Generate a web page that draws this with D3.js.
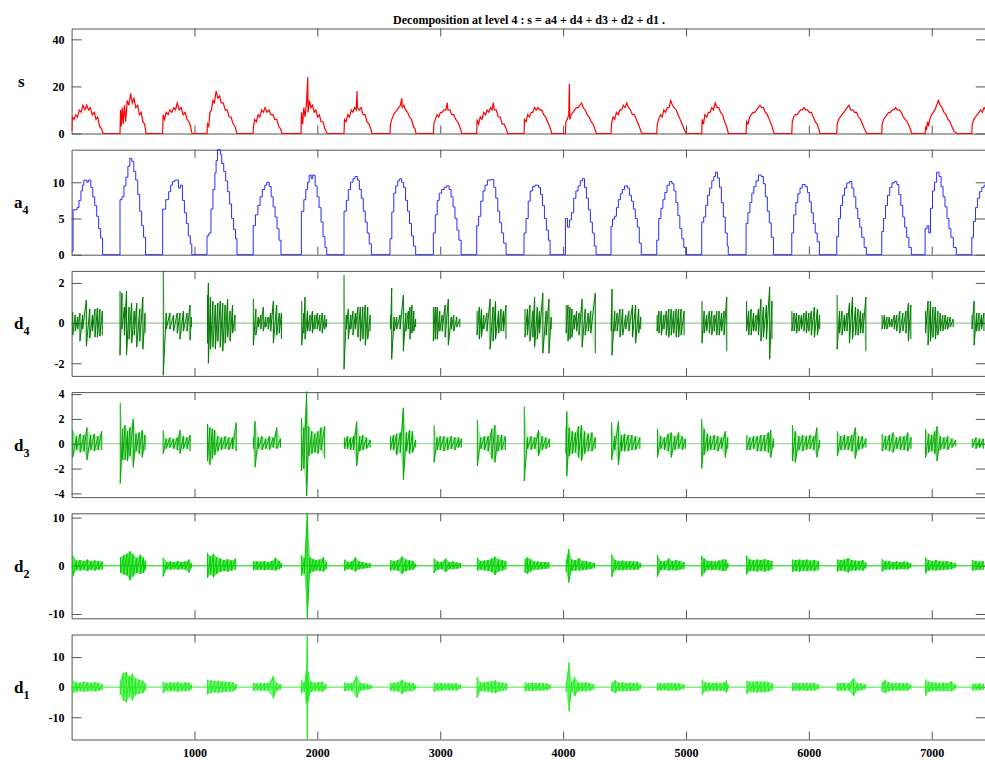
<!DOCTYPE html>
<html>
<head>
<meta charset="utf-8">
<script src="https://cdn.jsdelivr.net/npm/d3@7/dist/d3.min.js"></script>
<style>
  body { margin: 0; background: #fff; }
  .tick text { font-family: 'Liberation Serif', 'Times New Roman', serif; font-weight: bold; font-size: 12px; fill: #000; }
</style>
</head>
<body>
<div id="chart"></div>
<script>
// sample axis
var sampleMax = 7440;
var xTicks = [1000, 2000, 3000, 4000, 5000, 6000, 7000];

// y ranges and tick values of the six rows
var sRange = [0, 44.6],     sTicks = [0, 20, 40];
var a4Range = [0, 14.5],    a4Ticks = [0, 5, 10];
var d4Range = [-2.63, 2.6], d4Ticks = [-2, 0, 2];
var d3Range = [-4.3, 4.16], d3Ticks = [-4, -2, 0, 2, 4];
var d2Range = [-10.9, 10.9], d2Ticks = [-10, 0, 10];
var d1Range = [-17.4, 17.5], d1Ticks = [-10, 0, 10];

// signal s : [sample, value]
var sSignal = [
  [0,1],[6,7],[20,6],[34,8],[48,7],[62,10],[78,9],[92,12],[108,10],[122,12],[138,10],[152,11],[168,8],[184,9],[198,6],[212,7],[228,3],[244,2],[256,0],
  [394,0],[398,10],[404,3],[412,11],[420,4],[430,12],[440,5],[452,14],[466,12],[480,17],[494,13],[508,15],[522,11],[538,12],[552,8],[566,9],[580,5],[594,4],[606,0],
  [741,0],[745,8],[756,6],[770,9],[786,8],[800,10],[816,9],[832,11],[846,10],[860,13],[876,10],[892,11],[908,8],[924,9],[940,6],[955,5],[968,3],[980,0],
  [1102,0],[1106,4],[1116,3],[1126,9],[1138,10],[1150,14],[1162,13],[1176,18],[1190,15],[1204,16],[1218,13],[1234,13],[1250,10],[1266,10],[1282,7],[1298,7],[1314,4],[1330,3],[1346,0],
  [1476,0],[1480,3],[1490,6],[1504,5],[1518,8],[1532,7],[1546,10],[1560,9],[1574,11],[1590,9],[1606,10],[1622,8],[1638,8],[1654,6],[1670,6],[1686,3],[1700,2],[1713,0],
  [1867,0],[1871,9],[1880,4],[1890,11],[1900,7],[1912,13],[1922,24],[1924,9],[1936,14],[1948,11],[1960,12],[1974,9],[1988,10],[2002,7],[2016,8],[2030,5],[2046,5],[2062,2],[2079,0],
  [2217,0],[2221,6],[2234,5],[2248,8],[2262,7],[2276,10],[2290,9],[2304,11],[2316,10],[2323,18],[2326,11],[2340,10],[2356,11],[2372,8],[2388,8],[2404,5],[2420,4],[2434,2],[2445,0],
  [2591,0],[2595,4],[2606,6],[2620,8],[2634,9],[2648,10],[2662,11],[2676,12],[2687,15],[2690,11],[2704,12],[2718,10],[2734,9],[2750,7],[2766,6],[2782,3],[2795,2],[2803,0],
  [2944,0],[2948,4],[2960,6],[2974,8],[2988,7],[3002,9],[3016,9],[3030,10],[3046,10],[3058,13],[3062,10],[3078,10],[3094,8],[3110,8],[3126,6],[3142,5],[3158,3],[3175,0],
  [3297,0],[3300,6],[3312,4],[3326,7],[3340,6],[3354,9],[3368,8],[3382,10],[3396,9],[3410,11],[3422,10],[3432,13],[3440,10],[3456,10],[3472,7],[3488,7],[3504,4],[3520,4],[3536,2],[3549,0],
  [3682,0],[3686,6],[3698,5],[3712,8],[3726,7],[3740,9],[3754,9],[3768,11],[3782,10],[3796,11],[3810,10],[3826,10],[3842,8],[3858,7],[3874,5],[3890,3],[3908,0],
  [4019,0],[4022,5],[4034,6],[4046,8],[4051,21],[4054,6],[4066,8],[4080,9],[4094,10],[4108,11],[4122,11],[4136,12],[4150,13],[4164,11],[4180,10],[4196,8],[4212,7],[4228,5],[4244,4],[4258,2],[4271,0],
  [4390,0],[4394,4],[4406,7],[4420,6],[4434,9],[4448,8],[4462,10],[4476,10],[4490,12],[4504,11],[4518,13],[4532,11],[4548,10],[4564,8],[4580,8],[4596,6],[4612,4],[4626,2],[4640,0],
  [4762,0],[4766,4],[4778,6],[4792,8],[4806,7],[4820,10],[4834,9],[4848,11],[4862,11],[4876,14],[4890,12],[4904,11],[4920,10],[4936,8],[4952,6],[4968,4],[4984,2],[5001,0],
  [5128,0],[5132,6],[5142,4],[5154,8],[5168,7],[5182,9],[5196,9],[5210,11],[5224,10],[5238,13],[5252,11],[5266,11],[5282,9],[5298,8],[5314,5],[5330,3],[5345,0],
  [5489,0],[5493,5],[5504,4],[5518,7],[5532,8],[5546,9],[5560,9],[5574,10],[5588,11],[5602,12],[5616,11],[5630,11],[5646,9],[5662,8],[5678,6],[5694,4],[5706,2],[5717,0],
  [5861,0],[5865,5],[5876,7],[5890,8],[5904,8],[5918,9],[5932,10],[5946,10],[5960,11],[5974,10],[5988,10],[6004,9],[6020,9],[6036,7],[6052,5],[6068,4],[6080,2],[6091,0],
  [6227,0],[6231,4],[6242,6],[6256,7],[6270,8],[6284,9],[6298,10],[6312,11],[6326,12],[6340,10],[6356,10],[6372,9],[6388,9],[6404,7],[6420,6],[6436,4],[6452,2],[6471,0],
  [6593,0],[6597,4],[6608,6],[6622,7],[6636,8],[6650,9],[6664,9],[6678,10],[6692,10],[6706,11],[6720,10],[6736,10],[6752,9],[6768,7],[6784,6],[6800,5],[6818,3],[6838,0],
  [6946,0],[6950,3],[6958,2],[6966,5],[6974,3],[6984,6],[6998,8],[7012,9],[7026,10],[7040,12],[7054,14],[7068,12],[7084,11],[7100,9],[7116,8],[7132,6],[7148,5],[7164,3],[7180,1],[7204,0],
  [7326,0],[7330,4],[7342,6],[7356,7],[7370,8],[7384,9],[7398,10],[7412,9],[7426,11],[7440,10]
];

// approximation a4 (piecewise constant) : [sample, value]
var a4Signal = [
  [0,0.5],[12,6.2],[44,6.5],[60,7.5],[76,8.8],[88,9.6],[100,10.3],[124,10],[136,10.3],[156,9.3],[172,8],[188,6.8],[204,5.3],[220,3.6],[236,2.3],[252,0],
  [394,7.6],[410,8],[426,9.5],[442,10.7],[458,12.2],[474,13.3],[490,12.9],[506,11.5],[522,10.3],[538,8.3],[554,6],[570,4],[586,2.4],[602,0],
  [741,6.3],[766,7.6],[790,8.7],[806,9.6],[822,10.1],[838,10.3],[870,9.2],[886,9.6],[902,7.5],[918,5.8],[934,4.3],[950,2.6],[966,1.5],[978,0],
  [1102,2.6],[1118,3],[1134,6.3],[1150,9],[1166,11.3],[1176,13],[1188,14.5],[1212,13.8],[1222,12.6],[1238,11.5],[1254,10.2],[1270,8.7],[1286,7],[1302,5],[1318,3.5],[1334,2.2],[1346,0],
  [1478,4],[1496,5.5],[1516,6.8],[1534,8],[1552,9],[1572,9.6],[1588,10],[1608,9.4],[1624,8],[1640,6.6],[1656,5.2],[1672,3.6],[1688,2],[1704,0],
  [1870,6],[1890,7.6],[1906,9],[1920,10],[1934,11],[1950,10.5],[1962,11],[1982,9.5],[1998,8],[2014,6.5],[2030,4.5],[2046,2.5],[2062,1],[2076,0],
  [2217,6],[2236,7.5],[2252,9],[2270,10],[2290,10.5],[2306,10.8],[2326,10.3],[2342,9],[2358,7.8],[2374,6],[2390,4.5],[2406,3],[2422,1.5],[2440,0],
  [2591,2.2],[2606,5.9],[2622,8.5],[2638,9.5],[2654,10.2],[2670,10.5],[2686,10],[2702,9.3],[2718,7.5],[2734,6],[2750,4.3],[2766,2.6],[2782,1.2],[2800,0],
  [2944,3],[2960,5.5],[2976,7.5],[2992,8.5],[3012,9],[3032,9.3],[3052,9.5],[3072,9],[3088,8],[3104,6.6],[3120,5],[3136,3.4],[3152,2],[3170,0],
  [3297,4],[3312,5.3],[3330,7.4],[3348,8.8],[3364,9.6],[3384,10.3],[3416,10.4],[3436,9.3],[3452,7.8],[3468,6],[3484,4.4],[3500,3],[3516,1.6],[3536,0],
  [3682,3],[3698,5],[3716,7.4],[3732,8.8],[3752,9.4],[3772,9.6],[3800,9.3],[3816,8.3],[3832,6.8],[3848,5],[3864,3.4],[3880,2],[3894,0],
  [4019,5],[4036,3.8],[4052,4.8],[4068,5.8],[4086,7.8],[4104,8.8],[4122,9.5],[4140,10.2],[4158,10.5],[4174,9.3],[4190,7.8],[4206,6.2],[4222,4.5],[4238,3],[4254,1.2],[4268,0],
  [4390,3.9],[4402,4.9],[4418,5.3],[4434,6.5],[4450,7.6],[4466,8.4],[4482,9],[4500,9.5],[4524,9.2],[4540,8.2],[4556,7.4],[4572,6.3],[4588,5],[4604,3.8],[4620,1.6],[4636,0],
  [4762,2],[4778,5],[4796,6.4],[4812,7.6],[4828,8.6],[4846,9.6],[4866,10.1],[4886,9.8],[4902,8.8],[4918,7.2],[4934,5.4],[4950,3.6],[4966,2.2],[4982,1],[4998,0],
  [5128,4.5],[5144,5.2],[5160,6.8],[5176,8.2],[5192,9.2],[5210,10.2],[5226,10.8],[5240,11.4],[5256,10.6],[5272,9.3],[5288,7.2],[5304,5.2],[5320,3],[5336,1.2],[5344,0],
  [5489,4.3],[5504,5.8],[5520,7.2],[5536,8.5],[5552,9.4],[5570,10.2],[5590,11],[5612,10.8],[5630,9.8],[5646,8],[5662,6],[5678,4.4],[5694,2.4],[5712,0],
  [5861,3],[5876,5.5],[5894,7.2],[5910,8.4],[5928,9.2],[5946,9.7],[5970,9.4],[5988,8.6],[6004,7.3],[6020,5.8],[6036,4.3],[6052,3],[6068,1.8],[6086,0],
  [6227,2.5],[6242,5],[6258,6.8],[6274,8.2],[6290,9.2],[6308,9.9],[6330,10.1],[6350,9.2],[6366,8],[6382,6.4],[6398,5],[6414,3.8],[6430,2.4],[6450,1],[6468,0],
  [6593,3.2],[6608,5],[6624,6.8],[6640,8.2],[6658,9.3],[6676,9.9],[6696,10.1],[6716,9.7],[6732,8.3],[6748,6.8],[6764,5.2],[6780,3.8],[6796,2.4],[6814,1],[6834,0],
  [6946,3.6],[6962,4],[6976,3],[6990,6.4],[7006,8.8],[7022,10],[7040,11.4],[7060,10.8],[7076,9.4],[7092,8],[7108,6.6],[7124,5],[7140,3.6],[7156,2.4],[7176,1],[7200,0],
  [7326,2.4],[7340,4.6],[7356,6.5],[7372,7.8],[7390,8.7],[7408,9.3],[7426,9.6],[7440,9.6]
];

// details : bursts of [sample, high, low]
var d4Bursts = [
  [[9,0.55,-0.6],[30,0.4,-0.4],[50,0.3,-0.3],[68,0.5,-0.9],[90,0.4,-0.3],[120,1.15,-1.15],[148,0.7,-0.75],[170,0.4,-0.4],[190,0.7,-0.7],[210,0.75,-0.7],[230,0.7,-0.65],[250,0.6,-0.6]],
  [[394,1.6,-1.6],[410,1.5,-0.3],[430,0.8,-0.6],[447,1.6,-1.6],[468,0.8,-0.8],[489,1,-1],[510,0.6,-0.6],[530,1,-1.2],[555,0.7,-0.9],[580,1.3,-1.3],[598,0.5,-0.5]],
  [[746,2.6,-2.6],[770,0.5,-0.3],[800,0.5,-0.3],[830,0.4,-0.4],[860,0.5,-0.5],[882,0.5,-0.8],[910,0.6,-0.4],[940,0.5,-0.4],[964,0.9,-0.85],[975,0.3,-0.2]],
  [[1106,1.4,-1.0],[1113,2,-2],[1130,1.3,-1.3],[1150,1.1,-1.2],[1170,0.9,-1.3],[1190,1.0,-0.9],[1210,1.1,-1.2],[1230,1.0,-1.4],[1250,0.9,-1.0],[1270,1.2,-0.7],[1290,0.6,-0.9],[1310,0.9,-0.5],[1330,0.4,-0.4]],
  [[1479,1.2,-1.1],[1500,0.7,-0.6],[1520,0.3,-0.2],[1540,0.4,-0.3],[1560,0.8,-0.4],[1580,0.3,-0.2],[1600,0.3,-0.3],[1620,0.5,-0.4],[1642,1.1,-1.0],[1669,0.9,-0.6],[1690,0.5,-0.5],[1708,0.5,-0.8]],
  [[1873,1.1,-1.1],[1890,0.5,-0.5],[1900,1.3,-0.8],[1920,0.6,-0.4],[1940,0.4,-0.4],[1960,0.6,-0.5],[1980,0.4,-0.3],[2000,0.5,-0.3],[2020,0.4,-0.4],[2040,0.5,-0.5],[2060,0.4,-0.3],[2075,0.2,-0.2]],
  [[2217,2.4,-2.3],[2236,0.4,-0.3],[2252,0.7,-0.8],[2272,0.4,-0.3],[2290,0.6,-0.6],[2310,0.5,-0.3],[2330,0.8,-0.7],[2350,0.8,-0.9],[2370,0.8,-0.8],[2390,0.9,-1.1],[2410,0.8,-0.8],[2430,0.4,-0.4]],
  [[2596,0.4,-0.3],[2605,1.75,-1.8],[2625,0.3,-0.4],[2646,0.3,-0.3],[2673,0.4,-0.3],[2700,1.4,-1.4],[2720,0.5,-0.4],[2740,0.6,-0.3],[2754,0.8,-0.8],[2770,0.9,-0.5],[2785,0.6,-0.4],[2800,0.2,-0.2]],
  [[2944,0.8,-0.9],[2960,0.8,-0.8],[2976,0.8,-0.8],[2996,0.6,-0.4],[3016,0.4,-0.4],[3040,0.9,-0.7],[3066,1.2,-1.1],[3090,0.3,-0.3],[3110,0.4,-0.4],[3135,0.3,-0.2],[3160,0.2,-0.2]],
  [[3300,0.6,-0.6],[3318,0.8,-0.8],[3336,0.7,-0.7],[3354,0.4,-0.3],[3380,0.5,-0.4],[3406,1.2,-1.3],[3430,0.8,-0.9],[3450,1.1,-0.8],[3475,0.6,-0.5],[3495,0.7,-0.4],[3515,0.6,-0.4],[3535,0.9,-0.8]],
  [[3690,0.7,-0.7],[3710,0.7,-0.6],[3730,0.9,-0.9],[3754,0.6,-0.7],[3768,1.3,-1.2],[3790,0.8,-0.8],[3808,0.6,-0.5],[3835,1.5,-1.5],[3862,0.6,-0.6],[3885,1.2,-1.5],[3903,0.3,-0.3]],
  [[4025,0.9,-0.5],[4040,0.9,-0.9],[4056,0.8,-0.8],[4072,0.7,-0.7],[4090,0.4,-0.3],[4110,0.6,-0.4],[4130,0.5,-0.6],[4155,1.2,-1.2],[4180,0.7,-0.6],[4205,0.5,-0.4],[4225,0.6,-0.5],[4262,1.5,-1.5]],
  [[4392,0.5,-0.4],[4398,1.7,-1.6],[4420,0.6,-0.4],[4440,0.5,-0.4],[4463,0.7,-0.7],[4485,0.7,-0.6],[4510,0.4,-0.3],[4535,0.6,-0.4],[4565,0.9,-0.7],[4590,0.9,-1.0],[4615,0.7,-0.5],[4632,0.3,-0.3]],
  [[4765,0.4,-0.4],[4780,0.6,-0.5],[4800,0.6,-0.6],[4820,0.4,-0.3],[4840,0.6,-0.6],[4860,0.7,-0.7],[4880,0.7,-0.6],[4900,0.6,-0.5],[4920,0.7,-0.7],[4940,0.7,-0.7],[4960,0.7,-0.6],[4985,0.6,-0.6]],
  [[5130,1.1,-1.0],[5148,0.6,-0.5],[5168,0.4,-0.4],[5190,0.6,-0.5],[5210,0.6,-0.6],[5230,0.4,-0.4],[5250,0.6,-0.6],[5270,0.6,-0.6],[5290,0.5,-0.4],[5310,0.6,-0.6],[5332,1.3,-1.4]],
  [[5493,1.1,-0.4],[5510,0.6,-0.6],[5530,0.7,-0.6],[5550,0.5,-0.4],[5570,0.4,-0.4],[5590,0.7,-0.6],[5610,1.2,-0.9],[5630,0.8,-0.7],[5655,0.9,-0.8],[5681,1.8,-1.8],[5700,1.1,-0.8]],
  [[5862,0.6,-0.4],[5880,0.5,-0.4],[5900,0.5,-0.5],[5920,0.4,-0.4],[5940,0.4,-0.3],[5960,0.5,-0.4],[5980,0.6,-0.5],[6000,0.5,-0.4],[6020,0.6,-0.6],[6045,0.8,-0.7],[6070,0.7,-0.6],[6088,0.4,-0.3]],
  [[6230,1.4,-1.3],[6250,0.6,-0.5],[6270,0.6,-0.6],[6290,0.4,-0.4],[6310,0.5,-0.4],[6330,1.0,-1.0],[6355,1.3,-0.8],[6380,0.8,-0.6],[6400,0.7,-0.6],[6420,0.6,-0.5],[6440,0.5,-0.5],[6464,1.3,-1.4]],
  [[6596,0.4,-0.3],[6615,0.4,-0.3],[6635,0.3,-0.3],[6655,0.3,-0.2],[6675,0.2,-0.2],[6695,0.4,-0.3],[6715,0.4,-0.4],[6740,0.6,-0.5],[6765,0.5,-0.4],[6790,0.6,-0.5],[6810,1.0,-0.9],[6830,0.9,-0.8]],
  [[6950,0.6,-0.5],[6970,1.1,-1.1],[6990,1.1,-0.9],[7010,0.8,-0.7],[7030,0.8,-0.8],[7050,0.6,-0.6],[7070,0.5,-0.4],[7090,0.4,-0.4],[7110,0.4,-0.3],[7130,0.3,-0.3],[7150,0.3,-0.2],[7175,0.2,-0.2]],
  [[7328,0.4,-0.3],[7345,1.1,-1.1],[7365,0.5,-0.4],[7385,0.5,-0.4],[7405,0.4,-0.3],[7425,0.5,-0.4]]
];

var d3Bursts = [
  [[9,1.1,-1.1],[40,0.6,-0.5],[70,0.8,-0.7],[100,0.7,-0.6],[125,1.3,-1.3],[155,0.7,-0.5],[185,0.8,-0.6],[215,0.6,-0.5],[245,1.0,-0.5]],
  [[396,3.3,-3.2],[415,1.2,-1.3],[435,1.5,-1.3],[455,1.0,-1.4],[475,1.3,-1.0],[502,2.0,-1.9],[525,0.8,-0.6],[550,0.9,-0.8],[575,1.1,-1.1],[598,0.7,-0.5]],
  [[745,1.1,-0.8],[770,0.4,-0.4],[800,0.5,-0.3],[830,0.4,-0.4],[860,0.5,-0.5],[882,1.1,-0.8],[910,0.6,-0.4],[940,0.5,-0.4],[965,0.7,-0.6]],
  [[1106,1.6,-1.4],[1125,1.3,-1.7],[1145,1.2,-1.2],[1165,1.1,-0.9],[1190,0.6,-0.6],[1220,0.5,-0.5],[1250,0.6,-0.4],[1280,0.5,-0.5],[1310,0.5,-0.4],[1340,1.7,-0.6]],
  [[1480,0.5,-0.4],[1493,1.8,-1.9],[1520,0.5,-0.4],[1550,0.6,-0.5],[1580,0.4,-0.4],[1610,0.6,-0.5],[1640,0.5,-0.3],[1670,1.3,-0.4],[1700,0.4,-0.3]],
  [[1870,2.1,-2.2],[1890,1.3,-2.0],[1913,4.2,-4.2],[1930,1.4,-1.0],[1955,1.0,-0.8],[1980,0.8,-0.7],[2005,1.0,-0.8],[2030,1.3,-0.5],[2060,1.4,-1.2]],
  [[2220,0.5,-0.4],[2245,0.6,-0.4],[2270,0.5,-0.5],[2295,0.6,-0.5],[2320,1.8,-1.8],[2345,0.6,-0.6],[2370,0.7,-0.5],[2400,0.5,-0.4],[2430,0.3,-0.3]],
  [[2595,0.6,-0.5],[2620,0.7,-0.5],[2645,0.8,-0.9],[2675,0.9,-0.7],[2700,2.9,-2.9],[2725,0.9,-0.6],[2750,1.1,-0.8],[2775,1.0,-0.7],[2800,0.3,-0.3]],
  [[2950,1.5,-1.5],[2975,0.5,-0.5],[3000,0.6,-0.5],[3030,0.6,-0.6],[3060,0.5,-0.5],[3090,0.6,-0.4],[3120,0.5,-0.5],[3150,0.5,-0.3],[3172,0.4,-0.3]],
  [[3302,1.9,-1.8],[3330,0.5,-0.4],[3360,0.6,-0.5],[3390,0.6,-0.6],[3420,1.2,-1.2],[3445,1.5,-1.5],[3470,0.7,-0.6],[3500,0.7,-0.5],[3530,0.6,-0.5]],
  [[3684,3.0,-3.0],[3710,0.5,-0.4],[3740,0.6,-0.5],[3770,0.5,-0.4],[3800,1.1,-1.0],[3830,0.6,-0.5],[3860,0.5,-0.4],[3890,0.4,-0.3]],
  [[4024,1.4,-0.8],[4030,2.6,-2.6],[4050,1.3,-1.0],[4075,1.0,-0.8],[4100,0.9,-0.7],[4125,1.4,-1.1],[4150,1.5,-1.4],[4175,1.0,-0.8],[4205,0.8,-0.6],[4235,0.9,-0.6],[4262,0.5,-0.4]],
  [[4395,1.7,-1.3],[4420,0.6,-0.5],[4450,1.8,-1.7],[4475,0.7,-0.6],[4500,0.8,-0.6],[4530,0.7,-0.6],[4560,0.7,-0.5],[4590,0.6,-0.5],[4625,0.5,-0.4]],
  [[4768,1.2,-1.1],[4795,0.6,-0.4],[4825,0.5,-0.5],[4855,0.8,-0.6],[4880,0.9,-1.1],[4910,0.6,-0.5],[4940,0.9,-0.4],[4970,0.6,-0.5],[4995,0.4,-0.4]],
  [[5128,2.0,-2.0],[5148,1.2,-0.9],[5175,0.8,-0.6],[5200,0.6,-0.5],[5230,0.7,-0.5],[5260,0.6,-0.6],[5290,0.5,-0.4],[5320,1.0,-1.1],[5340,0.5,-0.4]],
  [[5495,0.7,-0.5],[5520,0.5,-0.5],[5550,0.6,-0.4],[5580,0.6,-0.6],[5610,0.7,-0.6],[5640,0.7,-0.6],[5670,0.9,-0.7],[5690,1.1,-1.1],[5712,0.4,-0.3]],
  [[5866,1.5,-1.4],[5890,1.0,-1.5],[5920,0.6,-0.5],[5950,0.7,-0.6],[5980,0.6,-0.5],[6010,0.7,-0.4],[6040,0.6,-0.5],[6065,1.3,-1.1],[6088,0.3,-0.3]],
  [[6232,1.0,-1.0],[6260,0.6,-0.5],[6290,0.7,-0.5],[6320,0.6,-0.5],[6350,0.7,-0.6],[6378,1.3,-1.2],[6405,0.6,-0.5],[6435,0.6,-0.4],[6465,0.4,-0.3]],
  [[6596,0.8,-0.6],[6625,0.6,-0.5],[6655,0.7,-0.6],[6685,0.9,-0.7],[6715,0.5,-0.4],[6745,0.6,-0.5],[6775,0.6,-0.5],[6805,0.9,-0.6],[6832,0.5,-0.4]],
  [[6950,1.2,-1.1],[6975,0.8,-0.7],[7000,0.7,-0.6],[7025,1.0,-0.8],[7043,1.4,-1.4],[7070,0.6,-0.5],[7100,0.5,-0.4],[7130,0.6,-0.5],[7165,0.4,-0.3],[7195,0.3,-0.2]],
  [[7330,0.4,-0.3],[7360,0.5,-0.4],[7390,0.4,-0.3],[7420,0.4,-0.4]]
];

var d2Bursts = [
  [[9,2.2,-2.2],[40,1.1,-0.9],[70,1.2,-1.0],[100,1.0,-0.8],[130,1.3,-1.1],[160,0.9,-0.8],[190,1.1,-1.0],[220,1.0,-0.8],[250,0.9,-0.8]],
  [[398,1.8,-1.5],[425,2.2,-1.8],[450,2.5,-2.0],[475,3.0,-3.0],[500,2.4,-2.2],[530,1.6,-1.5],[560,2.3,-1.7],[585,1.7,-1.5],[602,1.0,-0.8]],
  [[745,1.7,-2.2],[775,0.8,-0.7],[805,0.9,-0.8],[835,0.8,-0.7],[865,1.0,-0.8],[895,0.8,-0.7],[925,0.9,-0.8],[955,1.3,-1.4],[975,0.5,-0.4]],
  [[1106,2.7,-2.5],[1130,2.0,-1.8],[1155,2.5,-2.4],[1180,1.8,-1.7],[1210,1.5,-1.3],[1240,1.2,-1.1],[1270,1.4,-1.2],[1300,1.1,-1.0],[1335,1.5,-0.8]],
  [[1480,1.0,-0.9],[1510,0.9,-0.8],[1540,0.9,-0.8],[1570,1.0,-0.9],[1600,0.8,-0.8],[1630,1.0,-0.9],[1660,1.7,-1.0],[1690,1.0,-0.7],[1708,0.5,-0.4]],
  [[1870,2.3,-2.0],[1895,1.5,-1.6],[1918,10.9,-10.9],[1940,1.8,-1.6],[1965,1.4,-1.2],[1990,1.2,-1.0],[2020,1.3,-1.1],[2050,1.8,-1.2],[2075,0.8,-0.6]],
  [[2222,1.3,-1.0],[2250,0.8,-0.7],[2280,0.9,-0.8],[2310,1.8,-1.2],[2340,0.9,-0.7],[2370,0.8,-0.6],[2400,0.6,-0.5],[2430,0.5,-0.4]],
  [[2596,1.2,-1.0],[2625,1.0,-0.9],[2655,1.2,-1.0],[2690,1.9,-1.7],[2720,1.3,-1.1],[2750,1.2,-0.9],[2780,1.0,-0.8],[2800,0.4,-0.3]],
  [[2950,1.5,-1.5],[2980,0.9,-0.8],[3010,0.8,-0.7],[3045,1.5,-1.3],[3075,0.8,-0.7],[3105,0.9,-0.7],[3135,0.7,-0.6],[3165,0.6,-0.5]],
  [[3302,1.7,-1.0],[3330,1.0,-0.8],[3360,1.1,-1.0],[3390,1.2,-1.1],[3420,1.5,-1.3],[3445,1.9,-1.9],[3475,1.4,-1.2],[3505,1.2,-1.0],[3535,1.0,-0.8]],
  [[3690,1.5,-1.4],[3710,1.8,-1.7],[3735,1.4,-1.2],[3765,0.9,-0.8],[3795,0.9,-0.8],[3825,0.8,-0.7],[3855,0.8,-0.6],[3885,0.7,-0.6]],
  [[4025,1.3,-1.2],[4046,3.5,-3.5],[4070,1.3,-1.1],[4100,1.2,-1.0],[4130,1.6,-1.0],[4160,1.0,-0.9],[4190,1.0,-0.8],[4220,0.8,-0.7],[4255,0.6,-0.5]],
  [[4396,2.4,-2.3],[4425,1.2,-0.9],[4455,1.0,-0.9],[4485,1.1,-0.9],[4515,0.9,-0.8],[4545,1.0,-0.8],[4575,0.9,-0.8],[4605,0.9,-0.8],[4632,0.5,-0.4]],
  [[4768,2.3,-2.3],[4795,1.0,-0.9],[4825,0.9,-0.8],[4860,1.5,-1.0],[4890,1.0,-0.9],[4920,1.2,-1.0],[4950,1.0,-0.8],[4985,0.8,-0.7]],
  [[5128,2.1,-2.2],[5150,1.5,-1.4],[5180,1.0,-0.8],[5210,1.0,-0.9],[5240,0.9,-0.8],[5270,1.1,-0.9],[5300,1.3,-1.1],[5325,1.3,-1.0],[5342,0.5,-0.4]],
  [[5493,2.2,-1.8],[5520,1.3,-1.1],[5550,1.2,-1.1],[5580,1.3,-1.2],[5610,1.2,-1.0],[5640,1.4,-1.2],[5670,1.2,-1.1],[5700,1.0,-0.8]],
  [[5866,1.3,-1.2],[5895,1.2,-1.1],[5925,1.3,-1.2],[5955,1.2,-1.0],[5985,1.3,-1.1],[6015,1.1,-1.0],[6045,1.2,-1.1],[6080,1.0,-0.9]],
  [[6232,1.3,-1.2],[6260,1.2,-1.0],[6290,1.3,-1.1],[6320,1.6,-1.4],[6350,1.2,-1.0],[6380,1.1,-1.0],[6410,1.0,-0.9],[6440,1.2,-1.0],[6465,0.6,-0.5]],
  [[6596,1.4,-1.2],[6625,0.9,-0.8],[6655,1.0,-0.8],[6685,0.8,-0.7],[6715,0.9,-0.8],[6745,0.8,-0.7],[6775,0.9,-0.7],[6805,0.8,-0.7],[6830,0.5,-0.4]],
  [[6950,1.7,-1.6],[6975,1.2,-1.0],[7005,1.0,-0.9],[7035,1.2,-1.0],[7065,1.0,-0.9],[7095,0.9,-0.8],[7125,1.0,-0.8],[7160,0.8,-0.7],[7195,0.5,-0.4]],
  [[7330,1.2,-1.0],[7360,1.0,-0.9],[7390,0.9,-0.8],[7420,1.0,-0.8]]
];

var d1Bursts = [
  [[9,2.2,-2.0],[40,1.6,-1.5],[70,1.5,-1.4],[100,1.8,-1.5],[130,1.6,-1.4],[160,1.4,-1.3],[190,1.6,-1.4],[220,1.5,-1.3],[250,1.0,-0.9]],
  [[396,2.5,-2.4],[421,4.8,-4.5],[445,5.0,-5.0],[470,3.5,-3.2],[495,4.5,-4.4],[520,3.0,-2.7],[550,2.5,-2.2],[580,2.2,-2.0],[602,1.2,-1.0]],
  [[745,1.8,-2.0],[775,1.4,-1.2],[805,1.6,-1.4],[835,1.5,-1.3],[865,1.8,-1.5],[895,1.4,-1.3],[925,1.6,-1.4],[955,1.5,-1.3],[975,0.8,-0.6]],
  [[1106,2.5,-2.4],[1135,2.2,-2.0],[1165,2.0,-1.8],[1195,2.1,-1.9],[1225,1.9,-1.7],[1255,1.8,-1.5],[1285,1.7,-1.5],[1315,1.6,-1.4],[1340,1.0,-0.8]],
  [[1480,1.5,-1.3],[1510,1.2,-1.0],[1540,1.4,-1.2],[1570,1.3,-1.1],[1600,1.4,-1.3],[1642,3.7,-3.7],[1670,1.4,-1.2],[1700,1.0,-0.8]],
  [[1870,2.4,-2.0],[1895,1.6,-1.5],[1910,5.5,-5.5],[1918,17.4,-17.4],[1925,5.0,-4.5],[1950,1.8,-1.6],[1980,1.5,-1.3],[2010,1.6,-1.4],[2040,1.8,-1.5],[2070,1.0,-0.8]],
  [[2222,1.6,-1.4],[2250,1.3,-1.1],[2280,1.4,-1.2],[2320,3.8,-3.6],[2350,1.4,-1.2],[2380,1.2,-1.0],[2410,1.0,-0.8],[2440,0.6,-0.5]],
  [[2596,1.4,-1.2],[2625,1.5,-1.3],[2655,1.6,-1.4],[2690,2.5,-2.3],[2720,1.6,-1.4],[2750,1.5,-1.3],[2780,1.4,-1.2],[2800,0.6,-0.5]],
  [[2950,1.6,-1.5],[2980,1.3,-1.1],[3010,1.4,-1.2],[3040,1.2,-1.0],[3070,1.3,-1.1],[3100,1.2,-1.0],[3130,1.3,-1.1],[3165,0.8,-0.6]],
  [[3300,3.5,-3.5],[3330,1.5,-1.3],[3360,1.6,-1.4],[3390,1.8,-1.5],[3420,2.0,-1.8],[3450,2.2,-2.0],[3480,1.6,-1.4],[3510,1.5,-1.3],[3540,1.2,-1.0]],
  [[3690,1.6,-1.4],[3720,1.4,-1.2],[3750,1.5,-1.3],[3780,1.3,-1.1],[3810,1.4,-1.2],[3840,1.3,-1.1],[3870,1.2,-1.0],[3895,0.8,-0.6]],
  [[4025,1.6,-1.4],[4048,8.2,-8.0],[4070,1.8,-1.5],[4095,3.3,-3.0],[4125,1.6,-1.4],[4155,1.5,-1.3],[4185,1.6,-1.4],[4215,1.4,-1.2],[4250,1.0,-0.8]],
  [[4396,1.6,-1.4],[4425,2.3,-2.0],[4455,1.5,-1.3],[4485,1.6,-1.4],[4515,1.4,-1.3],[4545,1.5,-1.3],[4575,1.4,-1.2],[4605,1.5,-1.3],[4632,0.8,-0.6]],
  [[4768,1.4,-1.2],[4795,1.3,-1.1],[4825,1.2,-1.0],[4855,1.4,-1.2],[4885,1.3,-1.1],[4915,1.4,-1.2],[4945,1.2,-1.0],[4985,0.9,-0.7]],
  [[5132,2.5,-2.5],[5160,1.6,-1.4],[5190,1.5,-1.3],[5220,1.4,-1.2],[5250,1.5,-1.3],[5280,1.4,-1.2],[5310,1.5,-1.3],[5330,2.2,-1.8],[5344,0.6,-0.5]],
  [[5495,2.2,-2.2],[5520,1.8,-1.6],[5550,1.9,-1.7],[5580,2.0,-1.8],[5610,1.8,-1.7],[5640,1.9,-1.7],[5670,1.7,-1.5],[5705,1.2,-1.0]],
  [[5866,1.5,-1.3],[5895,1.3,-1.1],[5925,1.4,-1.2],[5955,1.3,-1.1],[5985,1.4,-1.2],[6015,1.3,-1.1],[6045,1.4,-1.2],[6080,0.9,-0.7]],
  [[6232,1.5,-1.3],[6260,1.3,-1.1],[6290,1.4,-1.2],[6325,1.3,-1.1],[6364,3.0,-3.0],[6395,1.4,-1.2],[6425,1.3,-1.1],[6460,0.9,-0.7]],
  [[6596,1.8,-1.5],[6620,2.3,-2.0],[6650,1.6,-1.4],[6680,1.4,-1.2],[6710,1.3,-1.1],[6740,1.4,-1.2],[6770,1.3,-1.1],[6800,1.4,-1.2],[6830,0.8,-0.6]],
  [[6950,2.6,-2.8],[6975,1.8,-1.6],[7005,1.6,-1.4],[7035,1.5,-1.3],[7065,1.4,-1.2],[7095,1.5,-1.3],[7125,1.4,-1.2],[7160,2.0,-1.4],[7195,0.8,-0.6]],
  [[7330,1.2,-1.0],[7360,1.1,-1.0],[7390,1.2,-1.0],[7420,1.1,-0.9]]
];

var W = 985, H = 760;
var left = 71.6, right = 985.8;
var rowTop = 28.5, rowStep = 121.2, rowH = 105;

var svg = d3.select("#chart")
	.append("svg")
	.attr("width", W)
	.attr("height", H)
	.style("font-family", "'Liberation Serif', 'Times New Roman', serif");

var x = d3.scaleLinear().domain([0, sampleMax]).range([left, right]);
var plain = d => String(d);   // "-2" with a hyphen, as in the original

var rows = [
	{name: "s", sub: "", range: sRange, ticks: sTicks, kind: "line", data: sSignal, color: "#ff0000", width: 1.2},
	{name: "a", sub: "4", range: a4Range, ticks: a4Ticks, kind: "step", data: a4Signal, color: "#2a2aff", width: 1},
	{name: "d", sub: "4", range: d4Range, ticks: d4Ticks, kind: "burst", data: d4Bursts, color: "#007a00", fill: 0.12, base: 0.5},
	{name: "d", sub: "3", range: d3Range, ticks: d3Ticks, kind: "burst", data: d3Bursts, color: "#00aa00", fill: 0.3, base: 0.5},
	{name: "d", sub: "2", range: d2Range, ticks: d2Ticks, kind: "burst", data: d2Bursts, color: "#00d200", fill: 0.6, base: 1},
	{name: "d", sub: "1", range: d1Range, ticks: d1Ticks, kind: "burst", data: d1Bursts, color: "#22ee22", fill: 0.6, base: 0.9}
];

rows.forEach(function(r, i) {
	var top = rowTop + rowStep * i, bot = top + rowH;
	var y = d3.scaleLinear().domain(r.range).range([bot, top]);
	var g = svg.append("g");

	g.append("clipPath").attr("id", "clip" + i)
		.append("rect")
		.attr("x", left).attr("y", top - 1)
		.attr("width", right - left).attr("height", rowH + 2);

	// box and ticks
	var last = i === rows.length - 1;
	g.append("g").attr("transform", "translate(0," + top + ")")
		.call(d3.axisTop(x).tickValues(xTicks).tickSize(-8).tickSizeOuter(0).tickFormat(""));
	g.append("g").attr("transform", "translate(0," + bot + ")")
		.call(d3.axisBottom(x).tickValues(xTicks).tickSize(-8).tickSizeOuter(0).tickPadding(9)
			.tickFormat(last ? plain : ""));
	g.append("g").attr("transform", "translate(" + left + ",0)")
		.call(d3.axisLeft(y).tickValues(r.ticks).tickSize(-10).tickSizeOuter(0).tickPadding(7).tickFormat(plain));
	g.append("g").attr("transform", "translate(" + right + ",0)")
		.call(d3.axisRight(y).tickValues(r.ticks).tickSize(-10).tickSizeOuter(0).tickFormat(""));

	var plot = g.append("g").attr("clip-path", "url(#clip" + i + ")");

	if (r.kind === "line" || r.kind === "step") {
		var line = d3.line()
			.x(d => x(d[0]))
			.y(d => y(d[1]))
			.curve(r.kind === "step" ? d3.curveStepAfter : d3.curveLinear);
		plot.append("path")
			.datum(r.data)
			.attr("d", line)
			.attr("fill", "none")
			.attr("stroke", r.color)
			.attr("stroke-width", r.width);
	} else {
		// zero level between bursts
		plot.append("line")
			.attr("x1", x(0)).attr("x2", x(sampleMax))
			.attr("y1", y(0)).attr("y2", y(0))
			.attr("stroke", r.color)
			.attr("stroke-opacity", r.base)
			.attr("stroke-width", 1);

		var area = d3.area()
			.x(d => x(d[0]))
			.y0(d => y(d[2]))
			.y1(d => y(d[1]));
		plot.selectAll(".env")
			.data(r.data)
			.enter()
			.append("path")
			.attr("class", "env")
			.attr("d", area)
			.attr("fill", r.color)
			.attr("fill-opacity", r.fill);

		var zig = d3.line().x(d => x(d[0])).y(d => y(d[1]));
		plot.selectAll(".osc")
			.data(r.data)
			.enter()
			.append("path")
			.attr("class", "osc")
			.attr("d", b => zig(b.flatMap(p => [[p[0], p[1]], [p[0], p[2]]])))
			.attr("fill", "none")
			.attr("stroke", r.color)
			.attr("stroke-width", 1);
	}

	// row label
	var lab = g.append("text")
		.attr("x", r.sub ? 14 : 18)
		.attr("y", (top + bot) / 2 + 6)
		.style("font-size", "17px")
		.style("font-weight", "bold")
		.text(r.name);
	if (r.sub) {
		lab.append("tspan")
			.attr("dy", 6)
			.style("font-size", "12px")
			.text(r.sub);
	}
});

svg.selectAll(".domain, .tick line")
	.attr("stroke", "#555");

svg.append("text")
	.attr("x", 529)
	.attr("y", 24)
	.style("text-anchor", "middle")
	.style("font-size", "12px")
	.style("font-weight", "bold")
	.text("Decomposition at level 4 : s = a4 + d4 + d3 + d2 + d1 .");
</script>
</body>
</html>
